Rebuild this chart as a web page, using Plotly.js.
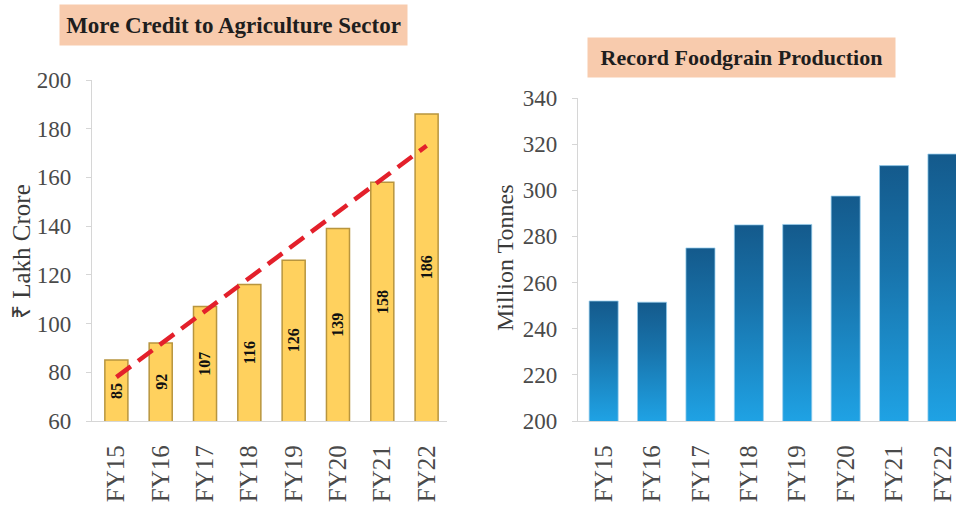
<!DOCTYPE html>
<html>
<head>
<meta charset="utf-8">
<script src="https://cdn.plot.ly/plotly-3.0.1.min.js"></script>
<style>
  html, body { margin: 0; padding: 0; background: #ffffff; }
  #chart { width: 956px; height: 508px; }
</style>
</head>
<body>
<div id="chart"></div>
<script>
// Fiscal years shared by both panels
const years = ['FY15', 'FY16', 'FY17', 'FY18', 'FY19', 'FY20', 'FY21', 'FY22'];

// Agricultural credit, ₹ lakh crore
const agriCredit = [85, 92, 107, 116, 126, 139, 158, 186];

// Linear trend of the credit series, at FY15 and FY22
const trendYears = ['FY15', 'FY22'];
const trendValues = [78, 173];

// Foodgrain production, million tonnes
const foodgrain = [252, 251.5, 275, 285, 285.2, 297.5, 310.7, 315.7];

// Axis tick values
const creditTicks = [60, 80, 100, 120, 140, 160, 180, 200];
const grainTicks = [200, 220, 240, 260, 280, 300, 320, 340];

const W = 956, H = 508;
const px = v => v / W;          // horizontal pixel -> paper
const py = v => 1 - v / H;      // vertical pixel -> paper

const serif = 'Liberation Serif, Times New Roman, serif';
const tickGrey = '#4a4a4a';
const axisGrey = '#d6d6d6';

const creditDomain = [py(421), py(80)];
const grainDomain = [py(421), py(98)];

const traces = [
  {
    type: 'bar',
    x: years,
    y: agriCredit,
    xaxis: 'x', yaxis: 'y',
    width: 0.52,
    marker: { color: '#ffd15e', line: { color: '#b8953e', width: 1.5 } },
    hoverinfo: 'x+y'
  },
  {
    type: 'scatter',
    mode: 'lines',
    x: trendYears,
    y: trendValues,
    xaxis: 'x', yaxis: 'y',
    line: { color: '#e3202b', width: 4.5, dash: '18px,9px' },
    hoverinfo: 'skip'
  },
  {
    type: 'bar',
    x: years,
    y: foodgrain,
    xaxis: 'x2', yaxis: 'y2',
    width: 0.6,
    marker: { color: '#1b7cb8', line: { color: 'rgba(150,205,238,0.75)', width: 1 } },
    hoverinfo: 'x+y'
  }
];

const xCommon = {
  type: 'category',
  showgrid: false,
  zeroline: false,
  showline: true,
  linecolor: axisGrey,
  linewidth: 1.2,
  ticks: '',
  tickangle: -90,
  tickfont: { family: serif, size: 25, color: tickGrey },
  ticklabelstandoff: 13
};

const yCommon = {
  showgrid: false,
  zeroline: false,
  showline: true,
  linecolor: axisGrey,
  linewidth: 1.2,
  ticks: 'outside',
  ticklen: 5,
  tickcolor: axisGrey,
  tickfont: { family: serif, size: 23, color: tickGrey },
  ticklabelstandoff: 10
};

// Value labels written inside the credit bars, centred on the visible part of each bar
const creditLabels = agriCredit.map((v, i) => ({
  text: '<b>' + v + '</b>',
  xref: 'x', yref: 'y',
  x: years[i],
  y: (creditTicks[0] + v) / 2,
  xanchor: 'center', yanchor: 'middle',
  textangle: -90,
  showarrow: false,
  font: { family: serif, size: 16, color: '#111111' }
}));

const layout = {
  width: W,
  height: H,
  margin: { l: 0, r: 0, t: 0, b: 0 },
  paper_bgcolor: '#ffffff',
  plot_bgcolor: '#ffffff',
  showlegend: false,
  xaxis: Object.assign({}, xCommon, {
    domain: [px(92), px(447)],
    range: [-0.55, 7.46],
    anchor: 'y'
  }),
  yaxis: Object.assign({}, yCommon, {
    domain: creditDomain,
    range: [60, 200],
    tickvals: creditTicks,
    anchor: 'x'
  }),
  xaxis2: Object.assign({}, xCommon, {
    domain: [px(578), 1],
    range: [-0.53, 7.28],
    anchor: 'y2'
  }),
  yaxis2: Object.assign({}, yCommon, {
    domain: grainDomain,
    range: [200, 340],
    tickvals: grainTicks,
    anchor: 'x2'
  }),
  annotations: [
    {
      text: '<b>More Credit to Agriculture Sector</b>',
      xref: 'paper', yref: 'paper',
      x: px(233.5), y: py(25),
      xanchor: 'center', yanchor: 'middle',
      showarrow: false,
      bgcolor: '#f8cbad',
      width: 337, height: 30, borderpad: 5,
      font: { family: serif, size: 23, color: '#1e1e1e' }
    },
    {
      text: '<b>Record Foodgrain Production</b>',
      xref: 'paper', yref: 'paper',
      x: px(741.5), y: py(57.5),
      xanchor: 'center', yanchor: 'middle',
      showarrow: false,
      bgcolor: '#f8cbad',
      width: 297, height: 29, borderpad: 5,
      font: { family: serif, size: 22, color: '#1e1e1e' }
    },
    {
      text: '₹ Lakh Crore',
      xref: 'paper', yref: 'paper',
      x: px(21), y: py(252),
      xanchor: 'center', yanchor: 'middle',
      textangle: -90,
      showarrow: false,
      font: { family: serif, size: 25, color: '#3a3a3a' }
    },
    {
      text: 'Million Tonnes',
      xref: 'paper', yref: 'paper',
      x: px(505), y: py(258),
      xanchor: 'center', yanchor: 'middle',
      textangle: -90,
      showarrow: false,
      font: { family: serif, size: 24, color: '#3a3a3a' }
    }
  ].concat(creditLabels)
};

// Vertical shading for each foodgrain bar: deep blue at its top, bright blue at the axis
function shadeGrainBars(gd) {
  const svg = gd.querySelector('svg.main-svg');
  if (!svg) return;
  const ns = 'http://www.w3.org/2000/svg';
  let defs = svg.querySelector('defs');
  if (!defs) { defs = document.createElementNS(ns, 'defs'); svg.insertBefore(defs, svg.firstChild); }
  const plotHeight = (grainDomain[1] - grainDomain[0]) * H;
  gd.querySelectorAll('.x2y2 .barlayer .point path').forEach((p, i) => {
    const box = p.getBBox();
    const top = box.y;
    const bottom = Math.min(box.y + box.height, plotHeight);
    const grad = document.createElementNS(ns, 'linearGradient');
    grad.setAttribute('id', 'grainShade' + i);
    grad.setAttribute('gradientUnits', 'userSpaceOnUse');
    grad.setAttribute('x1', '0'); grad.setAttribute('y1', String(top));
    grad.setAttribute('x2', '0'); grad.setAttribute('y2', String(bottom));
    [['0', '#145a8c'], ['0.4', '#1873ab'], ['1', '#1fa2e4']].forEach(([off, col]) => {
      const stop = document.createElementNS(ns, 'stop');
      stop.setAttribute('offset', off);
      stop.setAttribute('stop-color', col);
      grad.appendChild(stop);
    });
    defs.appendChild(grad);
    p.style.fill = 'url(#grainShade' + i + ')';
  });
}

const gd = document.getElementById('chart');
Plotly.newPlot(gd, traces, layout, { staticPlot: true, displayModeBar: false })
  .then(() => shadeGrainBars(gd));
</script>
</body>
</html>
